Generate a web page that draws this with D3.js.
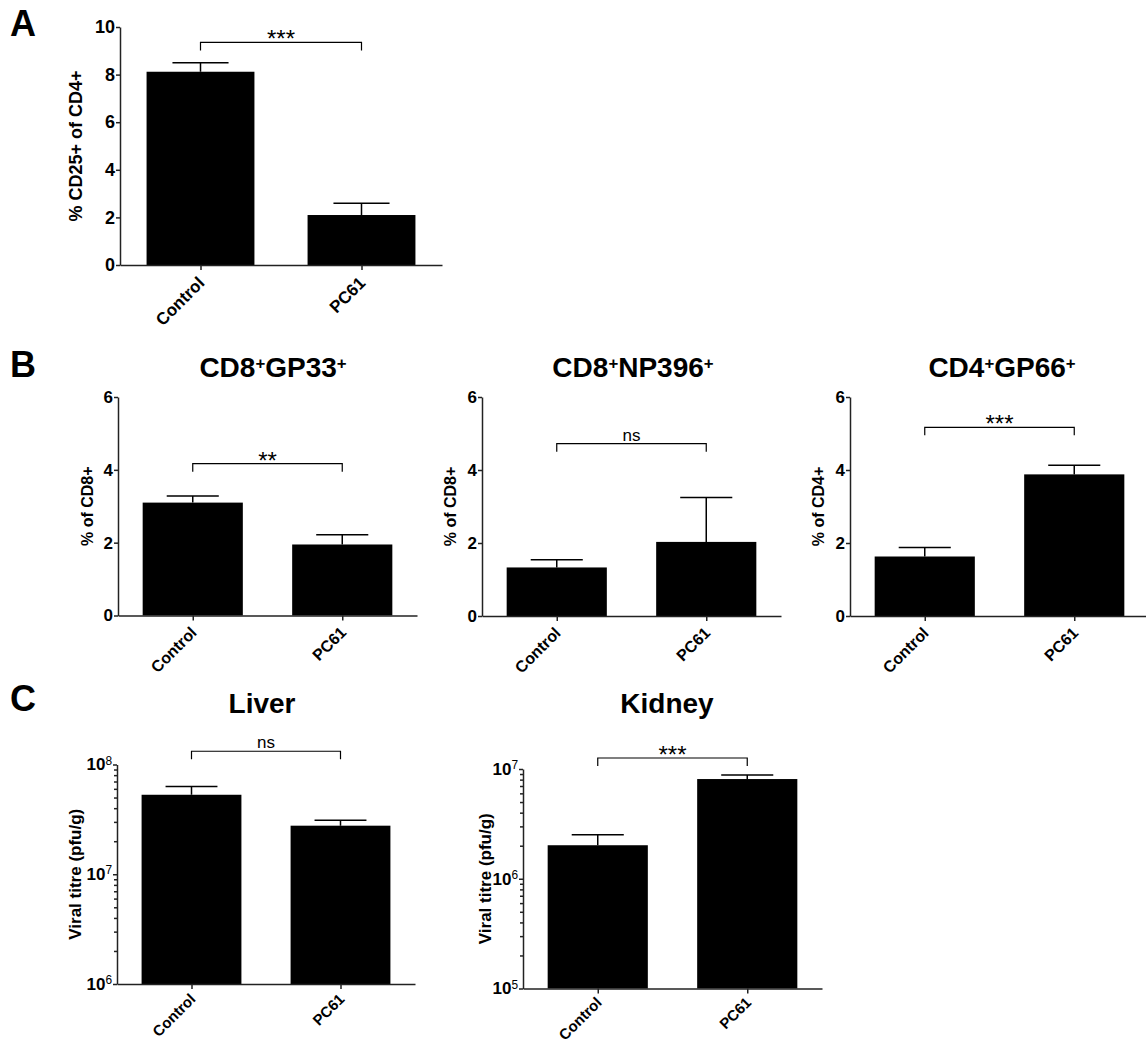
<!DOCTYPE html>
<html lang="en">
<head>
<meta charset="UTF-8">
<script src="https://d3js.org/d3.v7.min.js"></script>
<style>
    body { margin: 0; background: #fff; }
    svg { font-family: "Liberation Sans", Arial, sans-serif; }
    .axis path, .axis line { stroke: #222; stroke-width: 1.5; }
    .axis text { font-weight: bold; fill: #000; font-family: "Liberation Sans", Arial, sans-serif; }
    .bar { fill: #000; }
    .err { stroke: #000; stroke-width: 1.5; fill: none; }
    .sig { stroke: #000; stroke-width: 1.2; fill: none; }
</style>
</head>
<body>
<svg width="1146" height="1046"></svg>
<script>
// group names
const categories = ["Control", "PC61"];

// A: % CD25+ of CD4+
const cd25Mean = [8.12, 2.1];
const cd25Sem = [0.38, 0.49];

// B: tetramer+ populations
const gp33Mean = [3.1, 1.95];
const gp33Sem = [0.18, 0.27];
const np396Mean = [1.33, 2.03];
const np396Sem = [0.21, 1.22];
const gp66Mean = [1.63, 3.88];
const gp66Sem = [0.25, 0.25];

// C: viral titres (pfu/g)
const liverMean = [5.3e7, 2.77e7];
const liverSem = [1.0e7, 0.33e7];
const kidneyMean = [2.02e6, 8.1e6];
const kidneySem = [0.5e6, 0.7e6];

// significance labels and bracket height (data units)
const sigLabels = ["***", "**", "ns", "***", "ns", "***"];
const sigLevels = [9.35, 4.17, 4.72, 5.17, 1.32e8, 1.26e7];

// tick values
const ticksA = [0, 2, 4, 6, 8, 10];
const ticksB = [0, 2, 4, 6];
const ticksLiver = [1e6, 1e7, 1e8];
const ticksKidney = [1e5, 1e6, 1e7];

const svg = d3.select("svg");

// panel layout
const panels = [
    { mean: cd25Mean, sem: cd25Sem, sig: 0, ticks: ticksA, domain: [0, 10],
      x0: 120, x1: 442, yTop: 27, yBot: 265, tickFont: 18, xFont: 17, xOff: 19,
      yLabel: "% CD25+ of CD4+", yLabelFont: 18, yLabelOff: 38 },
    { mean: gp33Mean, sem: gp33Sem, sig: 1, ticks: ticksB, domain: [0, 6],
      x0: 118, x1: 417, yTop: 397, yBot: 615.5, tickFont: 17, xFont: 16, xOff: 18,
      yLabel: "% of CD8+", yLabelFont: 16, yLabelOff: 25,
      title: [["CD8", 0], ["+", 1], ["GP33", 0], ["+", 1]], titleX: 273, titleY: 377 },
    { mean: np396Mean, sem: np396Sem, sig: 2, ticks: ticksB, domain: [0, 6],
      x0: 482, x1: 781, yTop: 397, yBot: 616, tickFont: 17, xFont: 16, xOff: 18,
      yLabel: "% of CD8+", yLabelFont: 16, yLabelOff: 26,
      title: [["CD8", 0], ["+", 1], ["NP396", 0], ["+", 1]], titleX: 633, titleY: 377 },
    { mean: gp66Mean, sem: gp66Sem, sig: 3, ticks: ticksB, domain: [0, 6],
      x0: 850, x1: 1149, yTop: 397, yBot: 616, tickFont: 17, xFont: 16, xOff: 18,
      yLabel: "% of CD4+", yLabelFont: 16, yLabelOff: 26,
      title: [["CD4", 0], ["+", 1], ["GP66", 0], ["+", 1]], titleX: 1002, titleY: 377 },
    { mean: liverMean, sem: liverSem, sig: 4, ticks: ticksLiver, domain: [1e6, 1e8], log: true,
      x0: 117, x1: 415, yTop: 764.5, yBot: 984, tickFont: 17, xFont: 15, xOff: 16,
      yLabel: "Viral titre (pfu/g)", yLabelFont: 17, yLabelOff: 36,
      title: [["Liver", 0]], titleX: 262, titleY: 713 },
    { mean: kidneyMean, sem: kidneySem, sig: 5, ticks: ticksKidney, domain: [1e5, 1e7], log: true,
      x0: 523, x1: 822, yTop: 769, yBot: 988.5, tickFont: 17, xFont: 15, xOff: 15,
      yLabel: "Viral titre (pfu/g)", yLabelFont: 17, yLabelOff: 32,
      title: [["Kidney", 0]], titleX: 667, titleY: 713 }
];

function drawPanel(p) {
    const g = svg.append("g");
    const x = d3.scalePoint().domain(categories).range([p.x0, p.x1]).padding(0.5);
    const bw = x.step() * 0.67;
    const y = (p.log ? d3.scaleLog() : d3.scaleLinear()).domain(p.domain).range([p.yBot, p.yTop]);
    const base = p.domain[0];

    // bars
    g.selectAll(".bar")
        .data(p.mean)
        .join("rect")
        .attr("class", "bar")
        .attr("x", (d, i) => x(categories[i]) - bw / 2)
        .attr("y", d => y(d))
        .attr("width", bw)
        .attr("height", d => y(base) - y(d));

    // upper error bars only
    const cap = bw * 0.26;
    g.selectAll(".err")
        .data(p.mean)
        .join("path")
        .attr("class", "err")
        .attr("d", (d, i) => {
            const cx = x(categories[i]);
            const t = y(d + p.sem[i]);
            return `M${cx},${y(d)}V${t}M${cx - cap},${t}H${cx + cap}`;
        });

    // y axis
    const yAxis = d3.axisLeft(y).tickValues(p.ticks).tickSize(4).tickSizeOuter(0).tickPadding(1);
    yAxis.tickFormat(p.log ? () => "" : d3.format("d"));
    const ya = g.append("g")
        .attr("class", "axis")
        .attr("transform", `translate(${p.x0},0)`)
        .call(yAxis);
    ya.selectAll("text").style("font-size", p.tickFont + "px");
    if (p.log) {
        ya.selectAll(".tick text").each(function (d) {
            const t = d3.select(this);
            t.append("tspan").text("10");
            t.append("tspan")
                .attr("dy", "-0.5em")
                .style("font-size", "0.7em")
                .style("font-weight", "normal")
                .text(Math.round(Math.log10(d)));
        });
        // minor ticks
        const minor = [];
        for (let e = Math.log10(p.domain[0]); e < Math.log10(p.domain[1]); e++) {
            for (let m = 2; m <= 9; m++) minor.push(m * Math.pow(10, e));
        }
        g.append("g")
            .attr("class", "axis")
            .attr("transform", `translate(${p.x0},0)`)
            .call(d3.axisLeft(y).tickValues(minor).tickSize(3).tickSizeOuter(0).tickFormat(""))
            .select(".domain").remove();
    }

    // x axis
    g.append("g")
        .attr("class", "axis")
        .attr("transform", `translate(0,${p.yBot})`)
        .call(d3.axisBottom(x).tickSize(5).tickSizeOuter(0).tickFormat(""));

    g.selectAll(".xlab")
        .data(categories)
        .join("text")
        .attr("class", "xlab")
        .attr("transform", d => `translate(${x(d) + 5},${p.yBot + p.xOff}) rotate(-45)`)
        .attr("text-anchor", "end")
        .style("font-weight", "bold")
        .style("font-size", p.xFont + "px")
        .text(d => d);

    // y axis title
    g.append("text")
        .attr("transform", `translate(${p.x0 - p.yLabelOff},${(p.yTop + p.yBot) / 2}) rotate(-90)`)
        .attr("text-anchor", "middle")
        .style("font-weight", "bold")
        .style("font-size", p.yLabelFont + "px")
        .text(p.yLabel);

    // significance bracket
    const by = y(sigLevels[p.sig]);
    const xa = x(categories[0]), xb = x(categories[1]);
    g.append("path")
        .attr("class", "sig")
        .attr("d", `M${xa},${by + 8}V${by}H${xb}V${by + 8}`);
    const lab = sigLabels[p.sig];
    g.append("text")
        .attr("x", (xa + xb) / 2)
        .attr("y", lab === "ns" ? by - 3 : by + 5)
        .attr("text-anchor", "middle")
        .style("font-size", lab === "ns" ? "17px" : "24px")
        .text(lab);

    // panel title
    if (p.title) {
        const tt = g.append("text")
            .attr("x", p.titleX)
            .attr("y", p.titleY)
            .attr("text-anchor", "middle")
            .style("font-weight", "bold")
            .style("font-size", "28px");
        let up = false;
        p.title.forEach(([s, sup]) => {
            const ts = tt.append("tspan").text(s);
            if (sup && !up) { ts.attr("dy", "-0.5em").style("font-size", "0.6em"); up = true; }
            else if (!sup && up) { ts.attr("dy", "0.3em"); up = false; }
            else if (sup) { ts.style("font-size", "0.6em"); }
        });
    }
}

panels.forEach(drawPanel);

// panel letters
const letters = [["A", 36], ["B", 377], ["C", 711]];
svg.selectAll(".letter")
    .data(letters)
    .join("text")
    .attr("class", "letter")
    .attr("x", 10)
    .attr("y", d => d[1])
    .style("font-weight", "bold")
    .style("font-size", "36px")
    .text(d => d[0]);
</script>
</body>
</html>
